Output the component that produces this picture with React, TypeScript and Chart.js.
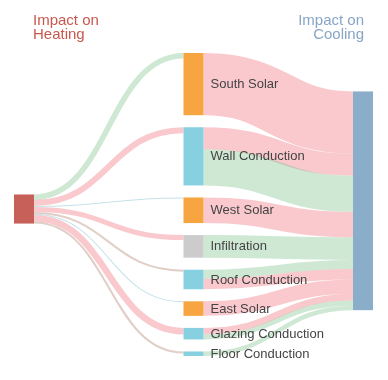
import React, { useEffect, useRef } from "react";
import { Chart, registerables } from "chart.js";

Chart.register(...registerables);

// ---------- data ----------
const leftTitle = ["Impact on", "Heating"];
const rightTitle = ["Impact on", "Cooling"];

const measures = [
  "South Solar",
  "Wall Conduction",
  "West Solar",
  "Infiltration",
  "Roof Conduction",
  "East Solar",
  "Glazing Conduction",
  "Floor Conduction",
];
const measureColors = ["#f7a541", "#86d0df", "#f7a541", "#cccccc", "#86d0df", "#f7a541", "#86d0df", "#86d0df"];

// Heating -> measure links
const heatingValues = [5.5, 6, 1, 5, 2, 1, 6.5, 2];
const heatingKinds = ["down", "up", "minor", "up", "neutral", "minor", "up", "neutral"];

// measure -> Cooling links
const coolingSource = [0, 1, 1, 2, 3, 4, 4, 5, 6, 6, 7];
const coolingValues = [62, 22, 36, 25.5, 22.5, 9, 10.5, 14.5, 6.5, 5, 4.5];
const coolingKinds = ["up", "up", "down", "up", "down", "down", "up", "up", "up", "down", "down"];

const heatingColor = "#c8605a";
const coolingColor = "#8aaec9";
const kindColors: Record<string, string> = {
  up: "rgba(240,120,130,0.40)",
  down: "rgba(120,190,135,0.36)",
  minor: "rgba(100,180,200,0.38)",
  neutral: "rgba(170,120,100,0.36)",
};

const NODE_PAD = 12; // value units between middle nodes
const NODE_W = 20; // px

const sum = (a: number[]) => a.reduce((s, v) => s + v, 0);

const sankeyPlugin = {
  id: "sankeyPlugin",
  afterDraw(chart: any) {
    const ctx = chart.ctx as CanvasRenderingContext2D;
    const xs = chart.scales.x;
    const ys = chart.scales.y;
    const n = measures.length;

    const outVals = measures.map((_, i) =>
      sum(coolingValues.filter((_, j) => coolingSource[j] === i))
    );
    const nodeVals = measures.map((_, i) => Math.max(heatingValues[i], outVals[i]));
    const total = sum(nodeVals) + NODE_PAD * (n - 1);
    const mid0: number[] = [];
    let acc = 0;
    for (let i = 0; i < n; i++) {
      mid0.push(acc);
      acc += nodeVals[i] + NODE_PAD;
    }
    const midCenter = nodeVals.map((v, i) => mid0[i] + v / 2);

    const hVal = sum(heatingValues);
    const cVal = sum(coolingValues);
    const hMean = sum(heatingValues.map((v, i) => v * midCenter[i])) / hVal;
    const cMean = sum(coolingValues.map((v, j) => v * midCenter[coolingSource[j]])) / cVal;
    const hC = total / 2 + 0.2 * (hMean - total / 2);
    const cC = total / 2 + 0.2 * (cMean - total / 2);
    const h0 = hC - hVal / 2;
    const c0 = cC - cVal / 2;

    const px = (col: number) => xs.getPixelForValue(col);
    const py = (v: number) => ys.getPixelForValue(v);
    const pw = (v: number) => Math.abs(ys.getPixelForValue(v) - ys.getPixelForValue(0));

    const link = (x0: number, y0: number, x1: number, y1: number, w: number, color: string) => {
      const xm = (x0 + x1) / 2;
      ctx.beginPath();
      ctx.moveTo(x0, y0);
      ctx.bezierCurveTo(xm, y0, xm, y1, x1, y1);
      ctx.lineWidth = w;
      ctx.strokeStyle = color;
      ctx.lineCap = "butt";
      ctx.stroke();
    };

    ctx.save();
    let hOff = h0;
    for (let i = 0; i < n; i++) {
      const v = heatingValues[i];
      link(px(0) + NODE_W, py(hOff + v / 2), px(1), py(mid0[i] + v / 2), pw(v), kindColors[heatingKinds[i]]);
      hOff += v;
    }
    const midOff = mid0.slice();
    let cOff = c0;
    for (let j = 0; j < coolingValues.length; j++) {
      const v = coolingValues[j];
      const s = coolingSource[j];
      link(px(1) + NODE_W, py(midOff[s] + v / 2), px(2), py(cOff + v / 2), pw(v), kindColors[coolingKinds[j]]);
      midOff[s] += v;
      cOff += v;
    }

    const rect = (col: number, y0: number, v: number, color: string) => {
      ctx.fillStyle = color;
      ctx.fillRect(px(col), py(y0), NODE_W, pw(v));
    };
    rect(0, h0, hVal, heatingColor);
    rect(2, c0, cVal, coolingColor);
    for (let i = 0; i < n; i++) rect(1, mid0[i], nodeVals[i], measureColors[i]);

    ctx.font = "13px 'Liberation Sans', Arial, sans-serif";
    ctx.fillStyle = "#444";
    ctx.textBaseline = "middle";
    ctx.textAlign = "left";
    for (let i = 0; i < n; i++) {
      ctx.fillText(measures[i], px(1) + NODE_W + 7, py(midCenter[i]) + 0.5);
    }

    ctx.font = "15px 'Liberation Sans', Arial, sans-serif";
    ctx.textBaseline = "alphabetic";
    ctx.fillStyle = "#c8584e";
    ctx.textAlign = "left";
    leftTitle.forEach((t, k) => ctx.fillText(t, px(0) + NODE_W - 1, 25 + k * 14));
    ctx.fillStyle = "#87a5c6";
    ctx.textAlign = "right";
    rightTitle.forEach((t, k) => ctx.fillText(t, px(2) + NODE_W / 2 + 1, 25 + k * 14));
    ctx.restore();
  },
};

export default function App() {
  const ref = useRef<HTMLCanvasElement>(null);
  useEffect(() => {
    document.body.style.margin = "0";
    if (!ref.current) return;
    const outVals = measures.map((_, i) =>
      sum(coolingValues.filter((_, j) => coolingSource[j] === i))
    );
    const nodeVals = measures.map((_, i) => Math.max(heatingValues[i], outVals[i]));
    const total = sum(nodeVals) + NODE_PAD * (measures.length - 1);
    const chart = new Chart(ref.current, {
      type: "scatter",
      data: { datasets: [] },
      options: {
        animation: false,
        responsive: false,
        maintainAspectRatio: false,
        layout: { padding: { left: 14, right: 35, top: 53, bottom: 24 } },
        scales: {
          x: { type: "linear", min: 0, max: 2, display: false },
          y: { type: "linear", min: 0, max: total, reverse: true, display: false },
        },
        plugins: { legend: { display: false }, tooltip: { enabled: false } },
      },
      plugins: [sankeyPlugin],
    });
    return () => chart.destroy();
  }, []);
  return (
    <div style={{ position: "absolute", left: 0, top: 0, width: 388, height: 380, background: "#fff" }}>
      <canvas ref={ref} width={388} height={380} />
    </div>
  );
}
